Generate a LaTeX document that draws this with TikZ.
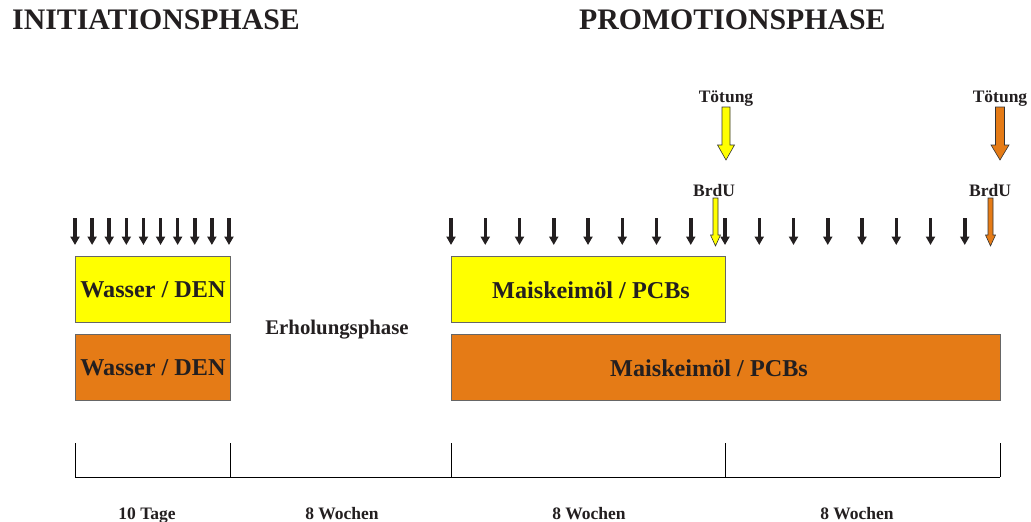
\documentclass[tikz,border=0pt]{standalone}
\usepackage{fontspec}
\setmainfont{Liberation Serif}
\usetikzlibrary{arrows.meta}
\definecolor{yel}{RGB}{255,255,0}
\definecolor{org}{RGB}{229,123,22}
\definecolor{arr}{RGB}{35,31,32}
\newcommand\fatarr[7]{% x, ytop, ytip, shaftw, headw, headlen, color
  \draw[fill=#7, draw=black!80, line width=0.6pt]
    ({#1-#4/2},#2) -- ({#1+#4/2},#2) -- ({#1+#4/2},{#3-#6}) -- ({#1+#5/2},{#3-#6})
    -- (#1,#3) -- ({#1-#5/2},{#3-#6}) -- ({#1-#4/2},{#3-#6}) -- cycle;}
\begin{document}
\begin{tikzpicture}[x=1pt,y=-1pt, text=arr,
  box/.style={draw=black!60, line width=0.8pt, anchor=north west, inner sep=0pt},
  boxtext/.style={font=\bfseries\fontsize{24.2}{27}\selectfont, inner sep=0pt},
  title/.style={font=\bfseries\fontsize{29.8}{34}\selectfont, inner sep=0pt},
  small/.style={font=\bfseries\fontsize{17.5}{20}\selectfont, inner sep=0pt, anchor=base},
  blk/.style={draw=arr, line width=3.5pt, -{Triangle[length=8.5pt,width=9pt]}},
  tl/.style={line width=0.8pt}]
\useasboundingbox (0,0) rectangle (1031,522);
% titles
\node[title, anchor=west] (t1) at (12,20) {INITIATIONSPHASE};
\node[title, anchor=west] (t2) at (579,20) {PROMOTIONSPHASE};
% boxes
\node[box, fill=yel, minimum width=155pt, minimum height=66pt] (w1) at (75,256) {};
\node[box, fill=org, minimum width=155pt, minimum height=66pt] (w2) at (75,334) {};
\node[box, fill=yel, minimum width=274pt, minimum height=66pt] (m1) at (451,256) {};
\node[box, fill=org, minimum width=549pt, minimum height=66pt] (m2) at (451,334) {};
\node[boxtext] (w1t) at (w1.center) {Wasser / DEN};
\node[boxtext] (w2t) at (w2.center) {Wasser / DEN};
\node[boxtext] (m1t) at (591,290) {Maiskeimöl / PCBs};
\node[boxtext] (m2t) at (709,368) {Maiskeimöl / PCBs};
\node[font=\bfseries\fontsize{20.8}{23}\selectfont, inner sep=0pt, anchor=base] (erh) at (337,334) {Erholungsphase};
% black arrows
\foreach \i in {0,...,9} \draw[blk] ({75+\i*17.11},218) -- ({75+\i*17.11},245);
\foreach \i in {0,...,15} \draw[blk] ({451+\i*34.25},218) -- ({451+\i*34.25},245);
% BrdU arrows
\fatarr{715.5}{198}{246}{5}{10}{11}{yel}
\fatarr{990.5}{198}{246}{5}{10}{11}{org}
\node[small] (b1) at (714,196) {BrdU};
\node[small] (b2) at (990,196) {BrdU};
% Toetung arrows
\fatarr{726}{107}{160}{8}{17}{15}{yel}
\fatarr{1000}{107}{160}{9}{18}{15}{org}
\node[small] (k1) at (726,102) {Tötung};
\node[small] (k2) at (1000,102) {Tötung};
% timeline
\coordinate (a0) at (75,477);
\coordinate (a4) at (1000,477);
\draw[tl] (a0) -- (a4);
\foreach \x in {75,230,451,725,1000} \draw[tl] (\x,443) -- (\x,477);
\node[small] (d1) at (147,519) {10 Tage};
\node[small] (d2) at (342,519) {8 Wochen};
\node[small] (d3) at (589,519) {8 Wochen};
\node[small] (d4) at (857,519) {8 Wochen};
\end{tikzpicture}
\end{document}
